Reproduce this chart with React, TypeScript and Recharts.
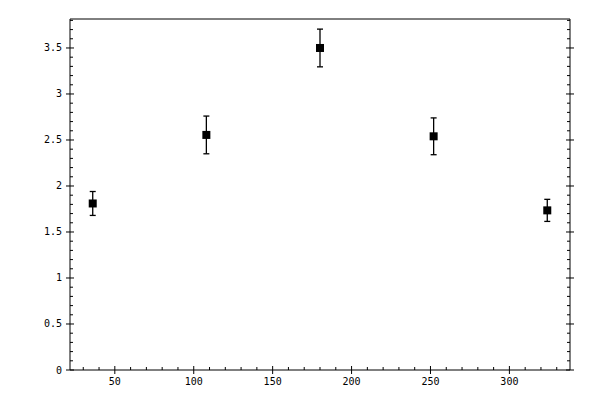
import React from 'react';
import { ScatterChart, Scatter, XAxis, YAxis, ErrorBar } from 'recharts';

// measured values
const xValues = [36, 108, 180, 252, 324];
const yValues = [1.81, 2.555, 3.5, 2.54, 1.735];
const yErrors = [0.13, 0.205, 0.205, 0.2, 0.12];

const xTicks = [30, 40, 50, 60, 70, 80, 90, 100, 110, 120, 130, 140, 150, 160, 170, 180, 190, 200,
  210, 220, 230, 240, 250, 260, 270, 280, 290, 300, 310, 320, 330];
const xMajor = [50, 100, 150, 200, 250, 300];
const yTicks = [0, 0.1, 0.2, 0.3, 0.4, 0.5, 0.6, 0.7, 0.8, 0.9, 1, 1.1, 1.2, 1.3, 1.4, 1.5, 1.6, 1.7,
  1.8, 1.9, 2, 2.1, 2.2, 2.3, 2.4, 2.5, 2.6, 2.7, 2.8, 2.9, 3, 3.1, 3.2, 3.3, 3.4, 3.5, 3.6, 3.7, 3.8];
const yMajor = [0, 0.5, 1, 1.5, 2, 2.5, 3, 3.5];

const xDomain = [21.6, 338.4];
const yDomain = [0, 3.815];

const data = xValues.map((x, i) => ({ x, y: yValues[i], err: yErrors[i] }));

const FONT = '"DejaVu Sans Mono", monospace';

const isMajor = (list: number[], v: number) => list.some((m) => Math.abs(m - v) < 1e-6);

const BottomTick = (props: any) => {
  const { x, y, payload } = props;
  const major = isMajor(xMajor, payload.value);
  return (
    <g>
      <line x1={x} x2={x} y1={major ? y - 4 : y - 3} y2={major ? y + 4 : y} stroke="#000" />
      {major && (
        <text x={x} y={y + 15} textAnchor="middle" fontSize={10} fontFamily={FONT} fill="#000">
          {payload.value}
        </text>
      )}
    </g>
  );
};

const TopTick = (props: any) => {
  const { x, y, payload } = props;
  const major = isMajor(xMajor, payload.value);
  return <line x1={x} x2={x} y1={major ? y - 4 : y} y2={major ? y + 4 : y + 3} stroke="#000" />;
};

const LeftTick = (props: any) => {
  const { x, y, payload } = props;
  const major = isMajor(yMajor, payload.value);
  return (
    <g>
      <line x1={major ? x - 4 : x} x2={major ? x + 4 : x + 3} y1={y} y2={y} stroke="#000" />
      {major && (
        <text x={x - 8} y={y + 3.5} textAnchor="end" fontSize={10} fontFamily={FONT} fill="#000">
          {payload.value}
        </text>
      )}
    </g>
  );
};

const RightTick = (props: any) => {
  const { x, y, payload } = props;
  const major = isMajor(yMajor, payload.value);
  return <line x1={major ? x - 4 : x - 3} x2={major ? x + 4 : x} y1={y} y2={y} stroke="#000" />;
};

const Square = (props: any) => {
  const { cx, cy } = props;
  return <rect x={cx - 4} y={cy - 4} width={8} height={8} fill="#000" />;
};

export default function App() {
  return (
    <div style={{ position: 'absolute', left: 0, top: 0, width: 600, height: 400, background: '#fff' }}>
      <ScatterChart width={600} height={400} margin={{ top: 0, right: 0, bottom: 0, left: 0 }}>
        <XAxis
          xAxisId="b"
          dataKey="x"
          type="number"
          domain={xDomain}
          ticks={xTicks}
          interval={0}
          height={30}
          tickSize={0}
          tickMargin={0}
          tick={<BottomTick />}
          axisLine={{ stroke: '#000' }}
          allowDataOverflow
        />
        <XAxis
          xAxisId="t"
          orientation="top"
          type="number"
          domain={xDomain}
          ticks={xTicks}
          interval={0}
          height={19}
          tickSize={0}
          tickMargin={0}
          tick={<TopTick />}
          axisLine={{ stroke: '#000' }}
          allowDataOverflow
        />
        <YAxis
          yAxisId="l"
          dataKey="y"
          type="number"
          domain={yDomain}
          ticks={yTicks}
          interval={0}
          width={70}
          tickSize={0}
          tickMargin={0}
          tick={<LeftTick />}
          axisLine={{ stroke: '#000' }}
          allowDataOverflow
        />
        <YAxis
          yAxisId="r"
          orientation="right"
          type="number"
          domain={yDomain}
          ticks={yTicks}
          interval={0}
          width={30}
          tickSize={0}
          tickMargin={0}
          tick={<RightTick />}
          axisLine={{ stroke: '#000' }}
          allowDataOverflow
        />
        <Scatter xAxisId="b" yAxisId="l" data={data} shape={<Square />} isAnimationActive={false}>
          <ErrorBar dataKey="err" direction="y" width={3} stroke="#000" strokeWidth={1.3} />
        </Scatter>
      </ScatterChart>
    </div>
  );
}
